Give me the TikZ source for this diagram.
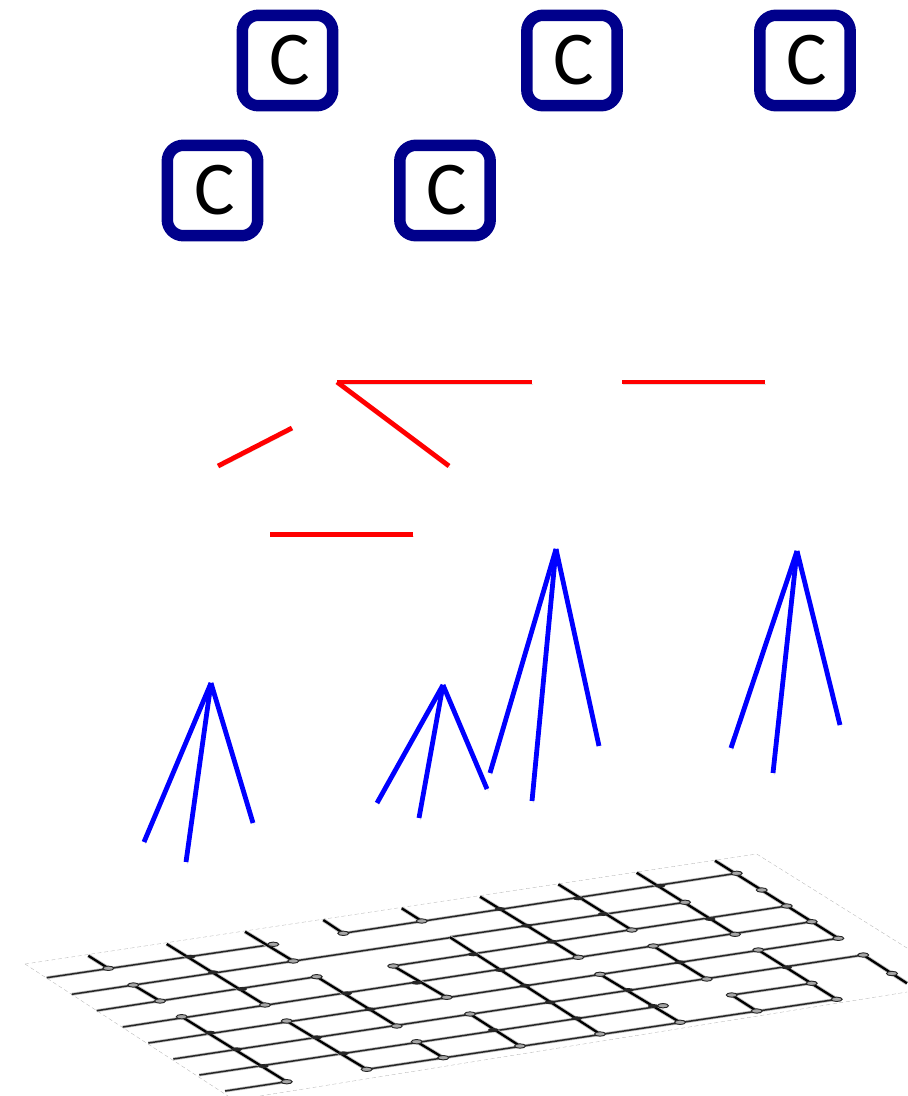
\documentclass[tikz,border=0pt]{standalone}
\usepackage{fontspec}
\setmainfont{Carlito}
\usepackage{xcolor}
\usetikzlibrary{calc}
\definecolor{boxblue}{HTML}{00008B}
\definecolor{red}{HTML}{FF0000}
\definecolor{blue}{HTML}{0000FF}
\newcommand{\qubit}{\hspace{3pt}\raisebox{-1.5pt}{C}}
\tikzset{
  cbox/.style={draw=boxblue,line width=8.6pt,rounded corners=12pt,minimum size=67.8pt,inner sep=0pt,fill=white,font=\fontsize{57}{60}\selectfont,text=black},
  shade/.style={preaction={draw=black!12,transform canvas={xshift=1pt,yshift=-1.6pt}}},
  redline/.style={draw=red,line width=3.6pt,shade},
  blueline/.style={draw=blue,line width=3.6pt,shade},
  wire/.style={draw=black!85,line width=1.1pt,preaction={draw=black!25,line width=2.2pt}},
  gate/.style={draw=black,line width=1.7pt,preaction={draw=black!25,line width=3pt}},
  joint/.style={draw=black!85,fill=black!35,line width=.7pt},
  cross/.style={fill=black!85},
  plane/.style={draw=black!30,line width=.25pt,densely dashed}
}
\begin{document}
\begin{tikzpicture}[x=0.75pt,y=-0.75pt]
\useasboundingbox (0,0) rectangle (907,1096);
% qubits
\node[cbox] (c1) at (287.5,60.5) {\qubit};
\node[cbox] (c2) at (572,60.5) {\qubit};
\node[cbox] (c3) at (805,60.5) {\qubit};
\node[cbox] (c4) at (212.5,190.5) {\qubit};
\node[cbox] (c5) at (445,190.5) {\qubit};
% red edges
\coordinate (r1) at (337,382); \coordinate (r2) at (532,382); \coordinate (r3) at (449,466);
\coordinate (r4) at (622,382); \coordinate (r5) at (765,382);
\coordinate (r6) at (218,466); \coordinate (r7) at (292,428);
\coordinate (r8) at (270,534.5); \coordinate (r9) at (413,534.5);
\draw[redline] (r1)--(r2);
\draw[redline] (r1)--(r3);
\draw[redline] (r4)--(r5);
\draw[redline] (r6)--(r7);
\draw[redline] (r8)--(r9);
% blue fans
\foreach \name/\ax/\ay/\bx/\by/\cx/\cy/\dx/\dy in {
  ta/211/683/144/842/186/862/253/823,
  tb/443/685/377/803/419/818/487/789,
  tc/556/549/490/773/532/801/599/746,
  td/797/551/731/748/773/773/840/725}{
  \coordinate (\name) at (\ax,\ay);
  \coordinate (\name1) at (\bx,\by);
  \coordinate (\name2) at (\cx,\cy);
  \coordinate (\name3) at (\dx,\dy);
  \draw[blueline] (\name)--(\name1);
  \draw[blueline] (\name)--(\name2);
  \draw[blueline] (\name)--(\name3);
}
% plane outline
\draw[plane] (25,964)--(756.7,854)--(907,948);
\draw[plane] (25,964)--(228,1096);
\draw[plane] (260,1096)--(907,992);
% wires
\foreach \ax/\ay/\bx/\by in {
  46.7/977.7/273.3/944.3, 343.3/933.3/736.7/873.3,
  71.7/994.3/450/937.7, 450/937/685/902.3,
  96.7/1010.7/316.7/976.7, 393.3/966/786.7/906,
  122.7/1027/811.7/921.7,
  148.3/1043/838.3/938.3,
  173.3/1059/863.3/955,
  199.3/1075/663/1005.7,
  225/1091/286.7/1081.7, 366.7/1069.3/836.7/999.3,
  731.7/995/811.7/983.3}{
  \draw[wire] (\ax,\ay)--(\bx,\by);
}
% gates
\foreach \ax/\ay/\bx/\by in {
  88.3/955.7/108.3/968.3, 166.7/944/265/1005, 245/931.7/293.3/961,
  323.3/920/343.3/933.3, 401.7/908.3/421.7/921, 133.3/985/160/1001,
  316.7/976.7/396.7/1026, 181.7/1016.7/286.7/1081.7, 286.7/1021/366.7/1069.3,
  416.7/1041.7/443.3/1057.7, 393.3/966/446.7/997.3, 450/937.3/600/1034,
  480/896.7/578.3/957.3, 558.3/884.3/631.7/930, 636.7/872.7/735/934.3,
  715/860.7/838.3/938.3, 653.3/946/706.7/979, 600/974.3/680/1022.3,
  758.3/950/836.7/999.3, 863.3/955/907/983.3, 731.7/995/756.7/1011,
  470/1014/520/1046}{
  \draw[gate] (\ax,\ay)--(\bx,\by);
}
% crossings
\foreach \ax/\ay in {
  190/956.7, 213.3/972.3, 241.7/989, 346.7/993.3, 370/1009.3,
  210/1032.7, 236.7/1049.3, 263.3/1066, 316.7/1037.3, 343.3/1053.3, 416.7/982.7,
  473.3/954.3, 500/970, 525/985.7, 550/1002.3, 576.7/1018.3,
  500/909, 526.7/925.7, 551.7/941.7, 578.3/898.3, 603.3/914,
  660/885.7, 710/919, 680/962.3, 628.3/990, 653.3/1006, 786.7/967.3, 493.3/1030}{
  \fill[cross] (\ax,\ay) ellipse (5.5 and 2);
}
% gate ends
\foreach \ax/\ay in {
  108.3/968.3, 265/1005, 293.3/961, 343.3/933.3, 421.7/921, 160/1001,
  396.7/1026, 286.7/1081.7, 366.7/1069.3, 443.3/1057.7, 446.7/997.3,
  600/1034, 578.3/957.3, 631.7/930, 735/934.3, 838.3/938.3, 706.7/979,
  680/1022.3, 836.7/999.3, 756.7/1011, 520/1046,
  133.3/985, 316.7/976.7, 181.7/1016.7, 286.7/1021, 416.7/1041.7, 393.3/966,
  653.3/946, 600/974.3, 758.3/950, 863.3/955, 731.7/995, 470/1014,
  273.3/944.3, 736.7/873.3, 685/902.3, 786.7/906, 761.7/890, 811.7/921.7, 811.7/983.3,
  663/1005.7, 892/973.5}{
  \draw[joint] (\ax,\ay) ellipse (5.5 and 2.2);
}
\end{tikzpicture}
\end{document}
